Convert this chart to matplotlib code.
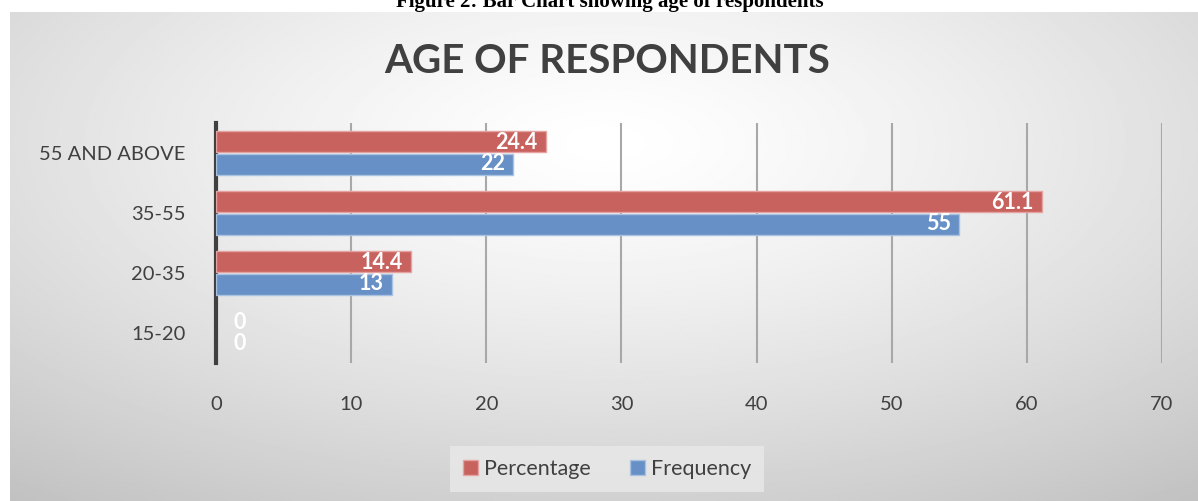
import numpy as np
import matplotlib
matplotlib.use('Agg')
from matplotlib import pyplot as plt
from matplotlib.patches import Rectangle

categories = ['15-20', '20-35', '35-55', '55 AND ABOVE']
percentage = [0, 14.4, 61.1, 24.4]
frequency = [0, 13, 55, 22]
pct_labels = ['0', '14.4', '61.1', '24.4']
freq_labels = ['0', '13', '55', '22']
xticks = [0, 10, 20, 30, 40, 50, 60, 70]

plt.rcParams['font.family'] = ['Lato', 'DejaVu Sans']

W, H = 1198, 501
fig = plt.figure(figsize=(W / 100, H / 100), dpi=100)

# radial gradient background of the chart area
bg = fig.add_axes([10 / W, 0, 1 - 10 / W, 1 - 12 / H])
yy, xx = np.mgrid[0:300, 0:600]
cx, cy = 300, 80
r = np.sqrt(((xx - cx) / 600.0) ** 2 + ((yy - cy) / 330.0) ** 2)
v = 1.0 - 0.25 * np.clip(r / 0.85, 0, 1) ** 1.3
bg.imshow(v, cmap='gray', vmin=0, vmax=1, aspect='auto', extent=[0, 1, 0, 1], origin='upper')
bg.axis('off')

fig.text(610 / W, 1 - 2 / H, 'Figure 2: Bar Chart showing age of respondents', ha='center', va='center',
         fontsize=15, fontweight='bold', family='Liberation Serif', color='black')
fig.text(607 / W, 1 - 62 / H, 'AGE OF RESPONDENTS', ha='center', va='center',
         fontsize=29, fontweight='bold', color='#404040')

ax = fig.add_axes([216 / W, 1 - 363 / H, (1162 - 216) / W, (363 - 123) / H])
ax.patch.set_alpha(0)
y = np.arange(len(categories))
h = 0.35
red = '#C8625F'
blue = '#6690C6'
ax.barh(y + h / 2 + 0.01, percentage, height=h, color=red, edgecolor='#e4a3a1',
        linewidth=[1 if p > 0 else 0 for p in percentage], zorder=3)
ax.barh(y - h / 2 - 0.01, frequency, height=h, color=blue, edgecolor='#a9c2e2',
        linewidth=[1 if f > 0 else 0 for f in frequency], zorder=3)
for i in range(len(categories)):
    for val, lab, off in [(percentage[i], pct_labels[i], h / 2), (frequency[i], freq_labels[i], -h / 2)]:
        if val > 0:
            ax.text(val - 0.6, y[i] + off, lab, ha='right', va='center',
                    color='white', fontsize=15.5, fontweight='bold', zorder=4)
        else:
            ax.text(1.3, y[i] + off, lab, ha='left', va='center',
                    color='white', fontsize=15.5, fontweight='bold', zorder=4)

ax.set_xlim(0, 70)
ax.set_ylim(-0.5, 3.5)
ax.set_xticks(xticks)
ax.set_yticks(y)
ax.set_yticklabels(categories)
ax.grid(axis='x', color='#a8a8a8', linewidth=1.5, zorder=1)
ax.tick_params(axis='both', length=0, labelsize=14.5, colors='#404040')
ax.tick_params(axis='x', pad=24)
ax.tick_params(axis='y', pad=22)
for s in ['top', 'right', 'bottom']:
    ax.spines[s].set_visible(False)
ax.spines['left'].set_color('#404040')
ax.spines['left'].set_linewidth(3)

leg = fig.legend(handles=[Rectangle((0, 0), 1, 1, color=red, ec='#e4a3a1'),
                          Rectangle((0, 0), 1, 1, color=blue, ec='#a9c2e2')],
                 labels=['Percentage', 'Frequency'], loc='center', ncol=2,
                 bbox_to_anchor=(607 / W, 1 - 469 / H), fontsize=15.5, frameon=True,
                 handlelength=0.7, handleheight=0.7, handletextpad=0.3, columnspacing=1.8,
                 fancybox=False, borderpad=0.6, borderaxespad=0)
leg.get_frame().set_facecolor('#e9e9e9')
leg.get_frame().set_edgecolor('none')
for t in leg.get_texts():
    t.set_color('#404040')

fig.savefig('out.png', dpi=100)
